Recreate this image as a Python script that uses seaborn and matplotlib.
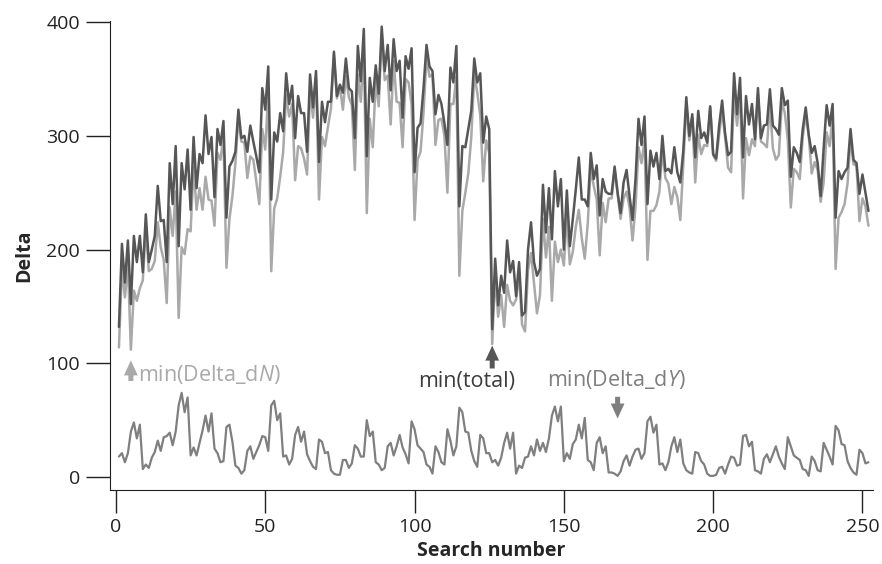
import numpy as np
import pandas as pd
import matplotlib.pyplot as plt
import seaborn as sns

# Values, one per search number (1..252)
total = [
    132, 205, 171, 208, 152, 212, 189, 212, 180, 231,
    189, 200, 212, 256, 225, 226, 189, 276, 240, 291,
    203, 276, 253, 288, 235, 299, 254, 284, 276, 318,
    284, 299, 246, 306, 292, 313, 228, 273, 278, 286,
    323, 298, 300, 286, 309, 295, 282, 268, 342, 323,
    361, 244, 303, 295, 320, 304, 355, 328, 344, 298,
    335, 320, 320, 286, 354, 325, 357, 277, 330, 312,
    330, 330, 374, 335, 345, 338, 368, 342, 339, 298,
    379, 348, 394, 282, 351, 330, 362, 337, 396, 357,
    380, 340, 385, 357, 366, 316, 370, 359, 377, 268,
    307, 311, 342, 380, 361, 357, 319, 336, 328, 311,
    292, 360, 347, 379, 238, 291, 290, 306, 322, 368,
    347, 355, 294, 317, 306, 130, 192, 151, 177, 162,
    208, 180, 190, 159, 189, 142, 145, 200, 224, 189,
    177, 183, 257, 215, 254, 209, 269, 238, 262, 200,
    252, 203, 227, 253, 281, 244, 244, 238, 285, 262,
    274, 230, 262, 251, 249, 249, 273, 250, 232, 259,
    270, 247, 226, 262, 315, 292, 317, 240, 287, 273,
    285, 262, 300, 269, 271, 267, 290, 268, 259, 287,
    334, 300, 319, 281, 322, 298, 303, 294, 326, 284,
    280, 309, 331, 302, 283, 286, 355, 319, 351, 281,
    335, 310, 328, 297, 342, 298, 309, 310, 341, 309,
    306, 301, 342, 327, 331, 264, 290, 285, 277, 306,
    325, 301, 285, 291, 276, 247, 289, 327, 309, 328,
    228, 269, 262, 268, 272, 306, 279, 276, 249, 266,
    250, 234,
]

delta_dN = [
    114, 184, 158, 187, 112, 164, 155, 166, 173, 220,
    181, 183, 190, 224, 202, 191, 153, 237, 212, 251,
    140, 202, 196, 218, 216, 273, 235, 254, 235, 264,
    244, 243, 221, 285, 279, 299, 184, 227, 247, 276,
    315, 295, 294, 263, 282, 279, 260, 240, 306, 288,
    338, 181, 236, 245, 264, 286, 336, 317, 328, 261,
    291, 289, 280, 266, 340, 316, 350, 244, 299, 291,
    308, 324, 371, 333, 343, 323, 353, 334, 327, 270,
    354, 330, 376, 232, 315, 290, 349, 326, 390, 349,
    353, 310, 366, 330, 329, 290, 350, 347, 328, 226,
    279, 286, 320, 369, 352, 354, 292, 314, 315, 300,
    250, 328, 328, 352, 177, 234, 250, 267, 299, 354,
    338, 318, 260, 296, 285, 117, 177, 141, 160, 132,
    169, 155, 151, 156, 179, 134, 128, 182, 197, 170,
    144, 160, 227, 193, 220, 155, 207, 189, 200, 186,
    231, 187, 198, 220, 235, 210, 192, 223, 272, 256,
    244, 195, 241, 224, 245, 245, 270, 249, 227, 245,
    251, 237, 208, 238, 290, 276, 296, 191, 234, 234,
    239, 251, 288, 263, 258, 240, 255, 246, 226, 275,
    328, 296, 316, 259, 301, 284, 292, 291, 325, 283,
    278, 301, 322, 299, 272, 268, 338, 309, 340, 245,
    298, 283, 297, 291, 337, 295, 293, 290, 328, 289,
    279, 283, 330, 320, 296, 237, 271, 268, 262, 299,
    319, 300, 267, 277, 270, 242, 259, 303, 291, 317,
    183, 228, 233, 240, 258, 298, 275, 274, 225, 245,
    238, 221,
]

delta_dY = [
    18, 21, 13, 21, 40, 48, 34, 46, 7, 11,
    8, 17, 22, 32, 23, 35, 36, 39, 28, 40,
    63, 74, 57, 70, 19, 26, 19, 30, 41, 54,
    40, 56, 25, 21, 13, 14, 44, 46, 31, 10,
    8, 3, 6, 23, 27, 16, 22, 28, 36, 35,
    23, 63, 67, 50, 56, 18, 19, 11, 16, 37,
    44, 31, 40, 20, 14, 9, 7, 33, 31, 21,
    22, 6, 3, 2, 2, 15, 15, 8, 12, 28,
    25, 18, 18, 50, 36, 40, 13, 11, 6, 8,
    27, 30, 19, 27, 37, 26, 20, 12, 49, 42,
    28, 25, 22, 11, 9, 3, 27, 22, 13, 11,
    42, 32, 19, 27, 61, 57, 40, 39, 23, 14,
    9, 37, 34, 21, 21, 13, 15, 10, 17, 30,
    39, 25, 39, 3, 10, 8, 17, 18, 27, 19,
    33, 23, 30, 22, 34, 54, 62, 49, 62, 14,
    21, 16, 29, 33, 46, 34, 52, 15, 13, 6,
    30, 35, 21, 27, 4, 4, 3, 1, 5, 14,
    19, 10, 18, 24, 25, 16, 21, 49, 53, 39,
    46, 11, 12, 6, 13, 27, 35, 22, 33, 12,
    6, 4, 3, 22, 21, 14, 11, 3, 1, 1,
    2, 8, 9, 3, 11, 18, 17, 10, 11, 36,
    37, 27, 31, 6, 5, 3, 16, 20, 13, 20,
    27, 18, 12, 7, 35, 27, 19, 17, 15, 7,
    6, 1, 18, 14, 6, 5, 30, 24, 18, 11,
    45, 41, 29, 28, 14, 8, 4, 2, 24, 21,
    12, 13,
]

x_ticks = [0, 50, 100, 150, 200, 250]
y_ticks = [0, 100, 200, 300, 400]

DARK = '#565656'
LIGHT = '#a9a9a9'
MID = '#7f7f7f'

df = pd.DataFrame({
    'search': np.arange(1, len(total) + 1),
    'total': total,
    'Delta_dN': delta_dN,
    'Delta_dY': delta_dY,
})

sns.set_style('ticks')
plt.rcParams['font.family'] = ['Open Sans', 'DejaVu Sans']
plt.rcParams['mathtext.fontset'] = 'custom'
plt.rcParams['mathtext.it'] = 'Open Sans:italic'

fig = plt.figure(figsize=(8.82, 5.64), dpi=100)
ax = fig.add_axes([0.1247, 0.1312, 0.865, 0.8316])

sns.lineplot(data=df, x='search', y='Delta_dN', color=LIGHT, lw=1.8, ax=ax)
sns.lineplot(data=df, x='search', y='total', color=DARK, lw=1.8, ax=ax)
sns.lineplot(data=df, x='search', y='Delta_dY', color=MID, lw=1.6, ax=ax)

ax.set_xlim(-2, 253.5)
ax.set_ylim(-11.4, 401)
ax.set_xticks(x_ticks)
ax.set_yticks(y_ticks)
sns.despine(ax=ax)
ax.spines['left'].set_color('#222222')
ax.spines['bottom'].set_color('#222222')
ax.tick_params(axis='y', length=17.5, width=1, pad=4, labelsize=14, colors='#222222')
ax.tick_params(axis='x', length=16.5, width=1, pad=4, labelsize=14, colors='#222222')

ax.set_xlabel('Search number', fontsize=14, fontweight='bold', labelpad=3)
ax.set_ylabel('Delta', fontsize=14, fontweight='bold', labelpad=9)

arrow = 'simple,head_width=0.55,head_length=0.6,tail_width=0.2'

# min(Delta_dN)
i_n = int(np.argmin(delta_dN))
xn = df['search'][i_n]
ax.annotate('', xy=(xn, 105), xytext=(xn, 82),
            arrowprops=dict(arrowstyle=arrow, color=LIGHT, lw=0, mutation_scale=18))
ax.text(xn + 2.3, 90, r'min(Delta_d$\mathit{N}$)', color=LIGHT, fontsize=15.5,
        ha='left', va='center')

# min(total)
i_t = int(np.argmin(total))
xt = df['search'][i_t]
ax.annotate('', xy=(xt, 118), xytext=(xt, 93),
            arrowprops=dict(arrowstyle=arrow, color=DARK, lw=0, mutation_scale=18))
ax.text(xt - 8.5, 84, 'min(total)', color='#3c3c3c', fontsize=15.5,
        ha='center', va='center')

# min(Delta_dY)
i_y = int(np.argmin(delta_dY))
xy_ = df['search'][i_y]
ax.annotate('', xy=(xy_, 49), xytext=(xy_, 73),
            arrowprops=dict(arrowstyle=arrow, color=MID, lw=0, mutation_scale=18))
ax.text(xy_ - 23.5, 86, r'min(Delta_d$\mathit{Y}$)', color=MID, fontsize=15.5,
        ha='left', va='center')

fig.savefig('out.png', dpi=100)
